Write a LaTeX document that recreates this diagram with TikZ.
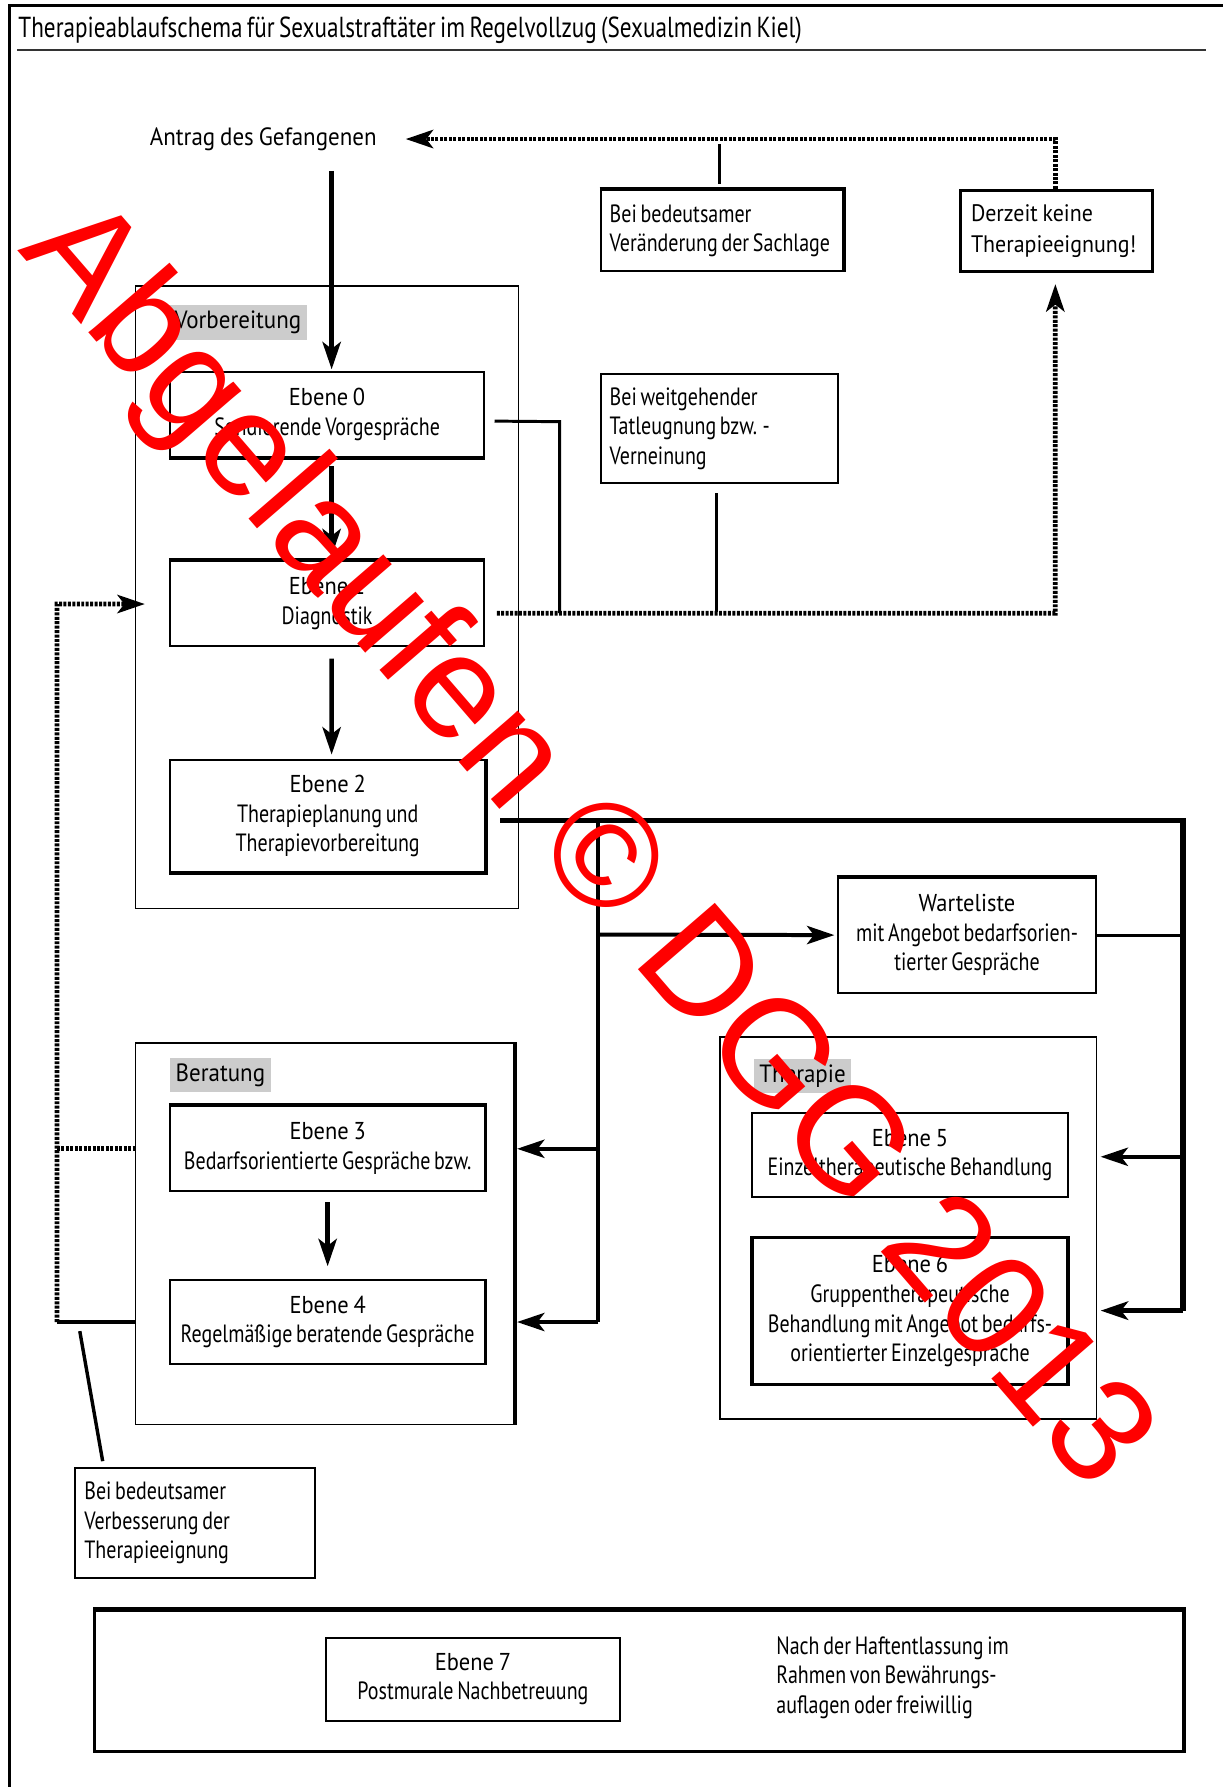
\documentclass[tikz,border=0pt]{standalone}
\usepackage{fontspec}
\setmainfont{PT Sans}[FakeStretch=0.8, WordSpace=0.7]
\newfontfamily\headfont{PT Sans}[FakeStretch=0.92, WordSpace=0.8]
\newfontfamily\markfont{Liberation Sans}
\usetikzlibrary{arrows.meta,calc}
\newcommand\oneline[1]{\mbox{#1}}

\begin{document}
\begin{tikzpicture}[x=1bp,y=-1bp,
  font=\fontsize{22}{26}\selectfont,
  box/.style={draw, line width=1.8bp, inner sep=0pt, align=center},
  lbox/.style={draw, line width=1.8bp, inner xsep=8bp, inner ysep=0pt, align=flush left, text width=#1},
  group/.style={draw, line width=1.4bp, inner sep=0pt},
  tag/.style={fill=black!20, inner xsep=5bp, inner ysep=0pt, minimum height=30bp, anchor=west, font=\headfont\fontsize{22}{24}\selectfont},
  tipA/.style={-{Stealth[length=24bp,width=16bp,inset=6bp]}},
  arr/.style={line width=4bp, tipA},
  dots/.style={line width=4.2bp, dash pattern=on 2.6bp off 1.3bp},
  link/.style={line width=2.6bp},
  heavy/.style={line width=4.5bp},
  edge/.style={line width=3.4bp},
]
\useasboundingbox (0,0) rectangle (1073,1568);
\fill[white] (0,0) rectangle (1073,1568);

% frame and title
\draw[line width=2.5bp] (8,1568) -- (8,5) -- (1073,5);
\node[anchor=west, inner sep=0pt, font=\fontsize{25.5}{28}\selectfont] (title) at (16,27)
  {Therapieablaufschema für Sexualstraftäter im Regelvollzug (Sexualmedizin Kiel)};
\draw[line width=2bp, black!80] (15,44) -- (1058,44);

% entry
\node[font=\headfont\fontsize{22}{26}\selectfont] (antrag) at (231,122) {Antrag des Gefangenen};

% condition boxes
\node[lbox=197bp, minimum height=71bp] (BS) at (633.5,202.5)
  {\oneline{Bei bedeutsamer}\\\oneline{Veränderung der Sachlage}};
\node[lbox=150bp, inner xsep=9bp, line width=2.6bp, minimum height=71bp, font=\headfont\fontsize{21}{27}\selectfont] (DK) at (927,202.5)
  {\oneline{Derzeit keine}\\\oneline{Therapieeignung!}};
\node[lbox=192bp, minimum height=96bp] (TL) at (631,376)
  {\oneline{Bei weitgehender}\\\oneline{Tatleugnung bzw. -}\\\oneline{Verneinung}};
\node[lbox=194bp, minimum height=97bp] (VB) at (171,1336.5)
  {\oneline{Bei bedeutsamer}\\\oneline{Verbesserung der}\\\oneline{Therapieeignung}};

% Vorbereitung
\node[group, minimum width=336bp, minimum height=546bp] (GV) at (287,524) {};
\node[tag] (tV) at (148,283) {Vorbereitung};
\node[box, minimum width=276bp, minimum height=75bp] (E0) at (287,363.5)
  {{\headfont\fontsize{21.5}{26}\selectfont Ebene 0}\\Sondierende Vorgespräche};
\node[box, minimum width=276bp, minimum height=75bp] (E1) at (287,529.5)
  {{\headfont\fontsize{21.5}{26}\selectfont Ebene 1}\\Diagnostik};
\node[box, minimum width=277bp, minimum height=98bp] (E2) at (287.5,716)
  {{\headfont\fontsize{21.5}{26}\selectfont Ebene 2}\\Therapieplanung und\\Therapievorbereitung};

% Warteliste
\node[box, minimum width=227bp, minimum height=101bp] (WL) at (848.5,820.5)
  {{\headfont\fontsize{21.5}{26}\selectfont Warteliste}\\mit Angebot bedarfsorien-\\tierter Gespräche};

% Beratung
\node[group, minimum width=332bp, minimum height=335bp] (GB) at (285,1082.5) {};
\node[tag] (tB) at (149,943.5) {Beratung};
\node[box, minimum width=277bp, minimum height=75bp] (E3) at (287.5,1007.5)
  {{\headfont\fontsize{21.5}{26}\selectfont Ebene 3}\\Bedarfsorientierte Gespräche bzw.};
\node[box, minimum width=277bp, minimum height=74bp] (E4) at (287.5,1160)
  {{\headfont\fontsize{21.5}{26}\selectfont Ebene 4}\\Regelmäßige beratende Gespräche};

% Therapie
\node[group, minimum width=330bp, minimum height=335bp] (GT) at (797,1077.5) {};
\node[tag] (tT) at (661,944) {Therapie};
\node[box, minimum width=277bp, minimum height=73bp] (E5) at (798.5,1013.5)
  {{\headfont\fontsize{21.5}{26}\selectfont Ebene 5}\\Einzeltherapeutische Behandlung};
\node[box, line width=3bp, minimum width=277bp, minimum height=129bp] (E6) at (798.5,1150.5)
  {{\headfont\fontsize{21.5}{26}\selectfont Ebene 6}\\Gruppentherapeutische\\Behandlung mit Angebot bedarfs-\\orientierter Einzelgespräche};

% Nachbetreuung
\node[draw, line width=2.4bp, minimum width=955bp, minimum height=124bp, inner sep=0pt] (G7) at (560.5,1475) {};
\node[box, minimum width=258bp, minimum height=73bp] (E7) at (415,1473.5)
  {{\headfont\fontsize{21.5}{26}\selectfont Ebene 7}\\Postmurale Nachbetreuung};
\node[anchor=west, align=left, inner sep=0pt] (post) at (681,1472)
  {Nach der Haftentlassung im\\Rahmen von Bewährungs-\\auflagen oder freiwillig};

% heavier box sides
\draw[edge] (BS.north west) -- (BS.north east) -- (BS.south east);
\draw[edge] (E0.south west) -- (E0.south east);
\draw[edge] (E1.north west) -- (E1.north east);
\draw[edge] (E2.north east) -- (E2.south east) -- (E2.south west);
\draw[edge] (WL.north west) -- (WL.north east);
\draw[edge] (E3.north west) -- (E3.north east);
\draw[edge] (GB.north east) -- (GB.south east);
\draw[edge] (G7.north west) -- (G7.north east) -- (G7.south east);

% junction points
\coordinate (a0) at (291,150);
\coordinate (topR) at (926,122);
\coordinate (topL) at (356,122);
\coordinate (j0) at (491,370);
\coordinate (j1) at (491,538);
\coordinate (j2) at (926,538);
\coordinate (l1) at (50,530);
\coordinate (l2) at (50,1160);
\coordinate (l3) at (50,1008);
\coordinate (d0) at (70,1168);
\coordinate (r0) at (525,720);
\coordinate (r1) at (1038,720);
\coordinate (r2) at (1038,1150);
\coordinate (r3) at (1038,1015);
\coordinate (r4) at (525,1160);
\coordinate (r5) at (525,1008);
\coordinate (r6) at (525,820);

% main flow
\draw[arr] (a0) -- ($(E0.north)+(4,-1)$);
\draw[arr] ($(E0.south)+(4,7)$) -- ($(E1.north)+(4,-3)$);
\draw[arr] ($(E1.south)+(4,10)$) -- ($(E2.north)+(3.5,-4)$);
\draw[arr] ($(E3.south)+(0,9)$) -- ($(E4.north)+(0,-11)$);

% return to the request
\draw[link] ($(BS.north)+(-2.5,-5)$) -- ($(BS.north)+(-2.5,-40)$);
\draw[dots, tipA] (DK.north -| topR) -- (topR) -- (topL);

% no suitability
\draw[link] ($(E0.east)+(8,6)$) -- (j0) -- (j1);
\draw[link] ($(TL.south)+(-2,8)$) -- ($(TL.south)+(-2,112)$);
\draw[dots, tipA] ($(E1.east)+(10,8.5)$) -- (j2) -- ($(DK.south)+(-1,10)$);

% improvement loop
\draw[dots, tipA] (l2) -- (l1) -- ($(E1.west)+(-21,0.5)$);
\draw[dots] (l3) -- (GB.west |- l3);
\draw[line width=3bp] (l2) -- (GB.west |- l2);
\draw[line width=3bp] (d0) -- ($(VB.north west)+(25,-5)$);

% planning outcomes
\draw[heavy] ($(E2.east)+(12,4)$) -- (r1) -- (r2);
\draw[heavy, tipA] (r2) -- ($(GT.east |- r2)+(3,0)$);
\draw[link, line width=3.5bp, tipA] (r3) -- ($(GT.east |- r3)+(3,0)$);
\draw[link] (WL.east) -- (WL.east -| r1);
\draw[line width=3.5bp] (r0) -- (r4);
\draw[line width=3.5bp, tipA] (r4) -- ($(GB.east |- r4)+(2,0)$);
\draw[line width=3.5bp, tipA] (r5) -- ($(GB.east |- r5)+(2,0)$);
\draw[line width=3.5bp, tipA] (r6) -- ($(WL.west)+(-2,0)$);

% stamp
\node[text=red, inner sep=0pt, font=\markfont\fontsize{130}{130}\selectfont, rotate=-49.2] (stamp) at (512,744)
  {Abgelaufen © DGG 2013};
\end{tikzpicture}
\end{document}
